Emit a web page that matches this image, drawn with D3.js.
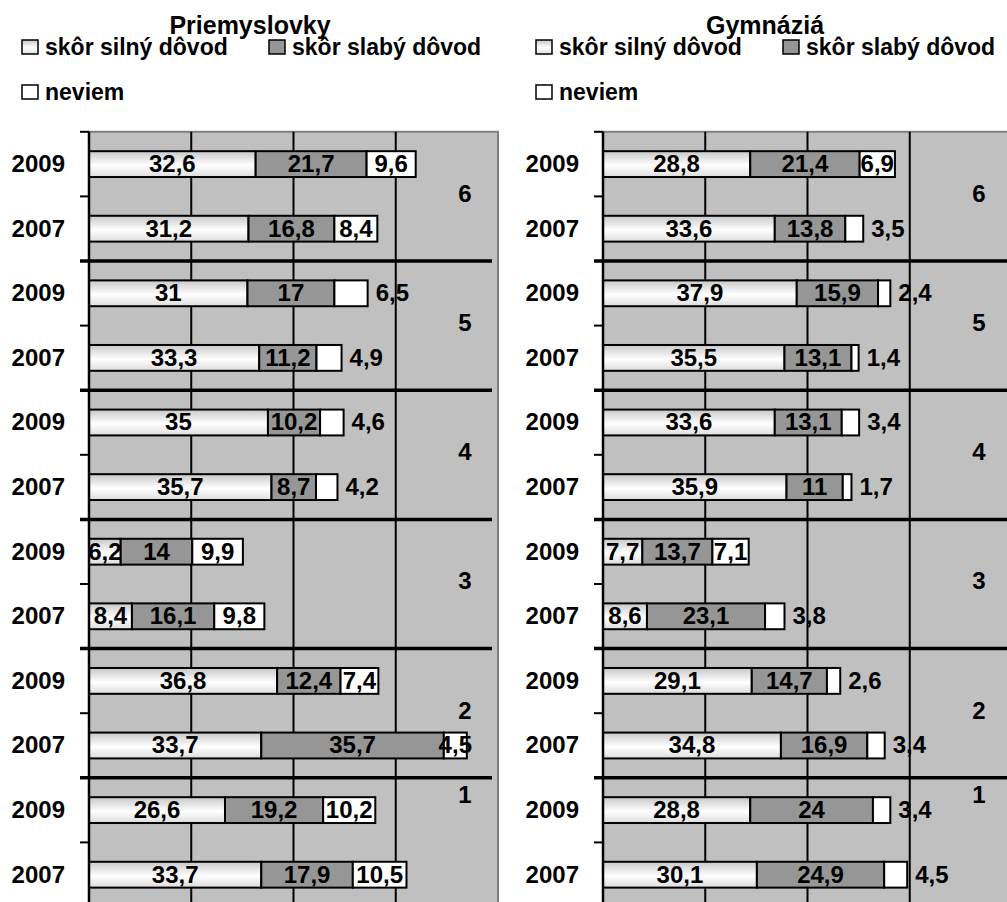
<!DOCTYPE html>
<html>
<head>
<meta charset="utf-8">
<script src="https://cdn.jsdelivr.net/npm/d3@7"></script>
<style>
  html, body { margin: 0; padding: 0; background: #fff; }
  svg { display: block; font-family: "Liberation Sans", Arial, sans-serif; font-weight: bold; }
</style>
</head>
<body>
<svg id="chart" width="1007" height="902"></svg>
<script>
// ---------- data ----------
const groups = ["6", "5", "4", "3", "2", "1"];
const years = ["2009", "2007"];
const seriesNames = ["skôr silný dôvod", "skôr slabý dôvod", "neviem"];
const panelTitles = ["Priemyslovky", "Gymnáziá"];

// rows top to bottom: group 6 (2009, 2007), group 5 (2009, 2007), ...
const silnyP  = [32.6, 31.2, 31, 33.3, 35, 35.7, 6.2, 8.4, 36.8, 33.7, 26.6, 33.7];
const slabyP  = [21.7, 16.8, 17, 11.2, 10.2, 8.7, 14, 16.1, 12.4, 35.7, 19.2, 17.9];
const neviemP = [9.6, 8.4, 6.5, 4.9, 4.6, 4.2, 9.9, 9.8, 7.4, 4.5, 10.2, 10.5];

const silnyG  = [28.8, 33.6, 37.9, 35.5, 33.6, 35.9, 7.7, 8.6, 29.1, 34.8, 28.8, 30.1];
const slabyG  = [21.4, 13.8, 15.9, 13.1, 13.1, 11, 13.7, 23.1, 14.7, 16.9, 24, 24.9];
const neviemG = [6.9, 3.5, 2.4, 1.4, 3.4, 1.7, 7.1, 3.8, 2.6, 3.4, 3.4, 4.5];

const xDomain = [0, 80];

// ---------- layout ----------
const svg = d3.select("#chart");
const plotTop = 131.8, rowStep = 64.6, plotW = 409;
const rowIds = [];
groups.forEach(g => years.forEach(yv => rowIds.push(g + "-" + yv)));
const nRows = rowIds.length;
const plotH = rowStep * nRows;

const colors = ["url(#gradSilny)", "#969696", "#ffffff"];

const defs = svg.append("defs");
const grad = defs.append("linearGradient").attr("id", "gradSilny")
  .attr("x1", 0).attr("y1", 0).attr("x2", 0).attr("y2", 1);
grad.append("stop").attr("offset", "0%").attr("stop-color", "#c8c8c8");
grad.append("stop").attr("offset", "55%").attr("stop-color", "#ffffff");
grad.append("stop").attr("offset", "100%").attr("stop-color", "#dcdcdc");

const panels = [
  { title: panelTitles[0], left: 89, data: [silnyP, slabyP, neviemP] },
  { title: panelTitles[1], left: 603, data: [silnyG, slabyG, neviemG] }
];

const x = d3.scaleLinear().domain(xDomain).range([0, plotW]);
const y = d3.scaleBand().domain(rowIds).range([0, plotH]).paddingInner(0.6).paddingOuter(0.3);

panels.forEach((p, pi) => {
  const off = p.left - 89;
  const root = svg.append("g");

  // title
  root.append("text").attr("x", 250 + off - (pi ? -1 : 0)).attr("y", 34)
    .attr("text-anchor", "middle").attr("font-size", 25).text(p.title);

  // legend
  const legPos = [[22, 45], [270, 98], [22 + 248, 0]];
  const leg = [
    { x: 22, y: 45, s: 0 },
    { x: 269, y: 45, s: 1 },
    { x: 22, y: 90, s: 2 }
  ];
  leg.forEach(l => {
    const lg = root.append("g").attr("transform", `translate(${l.x + off},${l.y})`);
    lg.append("rect").attr("x", 0).attr("y", -5).attr("width", 16).attr("height", 14)
      .attr("fill", colors[l.s]).attr("stroke", "#000").attr("stroke-width", 1.5);
    lg.append("text").attr("x", 23).attr("y", 10).attr("font-size", 23).text(seriesNames[l.s]);
  });

  const g = root.append("g").attr("transform", `translate(${p.left},${plotTop})`);

  // plot area
  g.append("rect").attr("x", 0).attr("y", 0).attr("width", plotW).attr("height", plotH)
    .attr("fill", "#c0c0c0").attr("stroke", "#808080").attr("stroke-width", 2);

  // vertical gridlines
  const ticks = x.ticks(4).filter(t => t > xDomain[0] && t < xDomain[1]);
  g.selectAll(".grid").data(ticks).enter().append("line")
    .attr("x1", d => x(d)).attr("x2", d => x(d))
    .attr("y1", 0).attr("y2", plotH)
    .attr("stroke", "#000").attr("stroke-width", 2);

  // stacked bars
  const rows = rowIds.map((id, i) => {
    let acc = 0;
    const segs = p.data.map((arr, s) => {
      const seg = { s, v: arr[i], x0: acc, x1: acc + arr[i] };
      acc += arr[i];
      return seg;
    });
    return { id, segs, total: acc };
  });

  rows.forEach(r => {
    const by = y(r.id), bh = y.bandwidth();
    r.segs.forEach(seg => {
      g.append("rect")
        .attr("x", x(seg.x0)).attr("y", by)
        .attr("width", x(seg.x1) - x(seg.x0)).attr("height", bh)
        .attr("fill", colors[seg.s]).attr("stroke", "#000").attr("stroke-width", 2);
    });
  });

  // value labels
  rows.forEach(r => {
    const cy = y(r.id) + y.bandwidth() / 2;
    r.segs.forEach(seg => {
      const w = x(seg.x1) - x(seg.x0);
      const label = String(seg.v).replace(".", ",");
      const estW = label.length * 12.5;
      let lx = x(seg.x0) + w / 2, anchor = "middle";
      if (seg.s === 2 && w < 34 && x(seg.x1) + 8 + estW < plotW) {
        lx = x(seg.x1) + 8; anchor = "start";
      }
      g.append("text").attr("x", lx).attr("y", cy + 8)
        .attr("text-anchor", anchor).attr("font-size", 24).text(label);
    });
  });

  // axis line and ticks at row boundaries
  g.append("line").attr("x1", 0).attr("x2", 0).attr("y1", 0).attr("y2", plotH)
    .attr("stroke", "#000").attr("stroke-width", 2.5);
  const bounds = d3.range(nRows + 1);
  g.selectAll(".tk").data(bounds.filter(b => b % 2 === 1 || b === 0)).enter().append("line")
    .attr("x1", -9).attr("x2", 0)
    .attr("y1", b => b * y.step()).attr("y2", b => b * y.step())
    .attr("stroke", "#000").attr("stroke-width", 2);
  // group separators
  g.selectAll(".sep").data(bounds.filter(b => b % 2 === 0 && b > 0 && b < nRows)).enter().append("line")
    .attr("x1", -9).attr("x2", pi === 0 ? plotW - 6 : plotW)
    .attr("y1", b => b * y.step()).attr("y2", b => b * y.step())
    .attr("stroke", "#000").attr("stroke-width", 3.5);

  // year labels
  rowIds.forEach((id, i) => {
    g.append("text").attr("x", -24).attr("y", y(id) + y.bandwidth() / 2 + 8)
      .attr("text-anchor", "end").attr("font-size", 24).text(years[i % 2]);
  });

  // group labels
  groups.forEach((gr, gi) => {
    const last = gi === groups.length - 1;
    const gy = last ? gi * 2 * y.step() + 25 : (gi * 2 + 1) * y.step() + 5.5;
    g.append("text").attr("x", 376).attr("y", gy)
      .attr("text-anchor", "middle").attr("font-size", 24).text(gr);
  });
});
</script>
</body>
</html>
